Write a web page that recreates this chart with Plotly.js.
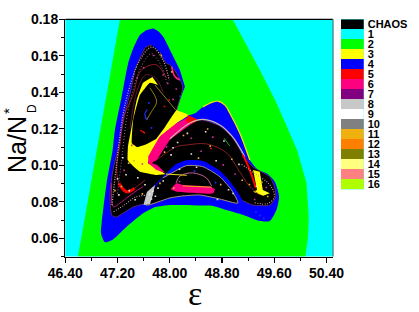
<!DOCTYPE html>
<html><head><meta charset="utf-8">
<script src="https://cdn.plot.ly/plotly-3.0.1.min.js"></script>
<style>html,body{margin:0;padding:0;background:#fff}#c{width:419px;height:312px}</style>
</head><body><div id="c"></div>
<script>
// Legend
const legendLabels = ['CHAOS','1','2','3','4','5','6','7','8','9','10','11','12','13','14','15','16'];
const legendColors = ['#000000','#00ffff','#00ff00','#ffff00','#0000ff','#ff0000','#ff0080','#800080','#c8c8c8','#ffffff','#808080','#f0b010','#ff8000','#808000','#ffff80','#ff8080','#b0ff00'];
const xTicks = [46.4,47.2,48.0,48.8,49.6,50.4];
const xTickLabels = ['46.40','47.20','48.00','48.80','49.60','50.40'];
const yTicks = [0.06,0.08,0.10,0.12,0.14,0.16,0.18];
const yTickLabels = ['0.06','0.08','0.10','0.12','0.14','0.16','0.18'];

// Period regions: boundaries in (epsilon, Na/N*D)
const greenX = [47.237,48.962,49.38,49.635,49.95,50.094,50.129,50.118,50.078,46.594];
const greenY = [.18,.18,.1522,.1341,.1084,.0903,.0717,.0608,.05,.05];
const blueX = [48.232,48.105,48.13,48.283,48.385,48.507,48.614,48.736,48.844,48.92,49.073,49.226,49.353,49.481,49.609,49.674,49.634,49.532,49.379,49.124,48.869,48.512,48.155,47.849,47.594,47.339,47.135,47.007,46.946,46.957,47.033,47.125,47.16,47.263,47.364,47.441,47.543,47.65,47.742,47.818,47.9,48.029,48.155];
const blueY = [.1431,.1303,.1299,.1275,.1285,.132,.134,.1352,.133,.1285,.1175,.1029,.0974,.0956,.091,.0828,.0755,.0695,.0695,.0728,.0755,.0792,.08,.0782,.0737,.0663,.0595,.0578,.0629,.0684,.0903,.1084,.1193,.1376,.1561,.1641,.1714,.1741,.175,.1736,.1705,.1614,.1522];
const chaosUpperX = [47.727,47.635,47.558,47.467,47.405,47.314,47.206,47.13,47.084,47.11,47.176,47.436,47.62,47.926,48.105,48.201,48.094,48.002,47.941,47.849];
const chaosUpperY = [.1659,.1648,.1599,.1522,.1413,.1287,.1084,.0974,.0848,.0727,.0716,.0771,.0793,.0952,.1303,.1429,.1511,.155,.1561,.1621];
const chaosLowerX = [47.635,48.002,48.277,48.507,48.767,48.963,49.15,49.272,49.532,49.609,49.624,49.532,49.272,49.088,48.614,48.002,47.589];
const chaosLowerY = [.1002,.1155,.1237,.1248,.1215,.115,.104,.0991,.0936,.0876,.0826,.0782,.0782,.081,.0837,.0826,.0782];
const yellowX = [47.734,47.589,47.493,47.416,47.359,47.355,47.39,47.543,47.799,47.936,47.665,47.68,47.849,48.105,48.293,48.13,48.105,47.926,47.788,47.65,47.497,47.42,47.44,47.543,47.696,47.82];
const yellowY = [.1484,.1451,.1358,.1211,.11,.1029,.1013,.0965,.0947,.0952,.1013,.1029,.1139,.123,.1275,.1299,.1303,.1209,.1144,.1117,.11,.112,.1248,.1385,.1452,.144];
const pinkX = [47.67,47.849,48.105,48.308,48.43,48.308,48.002,47.799,47.727,47.803,47.926,47.799,47.67];
const pinkY = [.1048,.1157,.123,.1266,.1248,.1221,.1139,.1029,.1013,.1002,.096,.0974,.1013];
const redX = [48.277,48.435,48.4,48.308,48.247];
const redY = [.1275,.1248,.1237,.1229,.1243];
const ringX = [47.936,48.079,48.258,48.507,48.767,48.963,49.119,48.002,47.589,47.742];
const ringY = [.0952,.1002,.1027,.1024,.097,.0892,.0793,.0782,.0771,.0881];
const lensX = [47.895,48.002,48.258,48.507,48.767,48.946,49.043,48.767,48.461,48.2,48.002,47.635,47.696];
const lensY = [.0931,.0952,.0998,.0992,.0937,.0864,.0793,.0815,.0837,.0832,.0821,.0782,.0849];
const greyX = [47.597,47.65,47.773,47.742,47.696];
const greyY = [.0782,.0854,.0892,.0837,.0787];
const lobeX = [48.012,48.105,48.2,48.614,48.69,48.665,48.308,48.105];
const lobeY = [.0868,.0901,.0892,.0883,.0868,.0846,.085,.0855];
const streakX = [49.276,49.379,49.425,49.532,49.43,49.276,49.337];
const streakY = [.0974,.0965,.0865,.0846,.0833,.0855,.0865];

// Thin bands
const lobeTopX = [48.2,48.64]; const lobeTopY = [.0887,.088];
const lobeArcX = [48.094,48.155,48.35,48.56,48.64]; const lobeArcY = [.0901,.0941,.0958,.0931,.0887];
const redStreakX = [49.119,49.226,49.318]; const redStreakY = [.1057,.0974,.0876];
const edgeX = [48.002,48.308,48.507,48.767,48.963,49.15]; const edgeY = [.1145,.1232,.1252,.1221,.1155,.1046];
const redArcX = [47.95,47.8,47.665,47.543,47.437,47.29,47.237,47.186,47.237,47.339,47.492,47.62];
const redArcY = [.1478,.155,.1544,.1511,.1385,.1259,.1111,.0992,.0883,.0855,.0883,.0919];
const redBlobX = [47.22,47.339,47.461]; const redBlobY = [.0901,.0855,.0873];
const magentaArcX = [47.11,47.135,47.237,47.441,47.594]; const magentaArcY = [.0903,.0773,.0793,.0848,.0883];
const paleArcX = [47.115,47.176,47.314,47.543,47.727,47.895,47.99]; const paleArcY = [.0782,.0974,.1331,.1577,.1648,.1577,.1467];
const paleInnerX = [47.2,47.26,47.37,47.57,47.72,47.87,47.96]; const paleInnerY = [.0845,.1022,.1315,.1545,.1612,.1545,.1445];
const lowerFringeX = [47.14,47.3,47.47,47.62]; const lowerFringeY = [.0745,.0781,.0825,.0835];
const rightFringeX = [49.1,49.3,49.5,49.58,49.6,49.5,49.3]; const rightFringeY = [.1005,.0955,.0905,.0865,.0825,.079,.0795];
const subLobeX = [48.029,48.079,48.155]; const subLobeY = [.1541,.1486,.1467];
const yellowLineX = [47.773,48.09]; const yellowLineY = [.144,.1303];
const ovalX = [47.696,47.799,47.72,47.645]; const ovalY = [.1424,.1349,.1294,.1248];
const ovalBlueX = [47.645,47.62,47.66]; const ovalBlueY = [.1248,.1285,.1305];
const redLongX = [47.799,48.105,48.258,48.564,48.87,49.023,49.226,49.379];
const redLongY = [.1029,.1102,.1111,.1117,.1068,.0992,.0883,.0837];
const greenLineX = [48.83,48.92]; const greenLineY = [.1149,.1105];
const fringeX = [48.507,48.614,48.736,48.844,48.92,49.073,49.226]; const fringeY = [.132,.134,.1352,.133,.1285,.1175,.1029];
const tipDashX = [47.94,48.26]; const tipDashY = [.0952,.0945];
const midArcX = [47.39,47.5,47.63,47.78,47.9]; const midArcY = [.12,.141,.1495,.148,.14];

// Speckles
const whiteX = [48.12,48.27,48.33,48.55,48.71,48.83,48.05,47.62,47.51,47.28,47.33,47.2,47.74,47.82,47.72,47.78,47.69,48.02,48.15,48.9,48.97,49.06,49.33,49.45,48.73,48.41,47.38,47.22,47.47,47.9];
const whiteY = [.1125,.1175,.1062,.1184,.1025,.1133,.1096,.0893,.0932,.1041,.0948,.0926,.0858,.0875,.0815,.083,.0842,.1057,.0978,.0866,.0845,.1005,.0885,.0851,.0812,.0989,.0861,.0838,.0811,.0914];
const goldX = [48.21,48.44,48.62,48.95,49.11,47.92,47.85,47.37,47.26,47.16,49.22,49.41,49.5,48.06,48.58,48.78,47.58,47.45,48.03,47.87];
const goldY = [.1163,.1039,.1105,.1033,.0918,.1072,.0901,.1012,.0884,.0861,.0895,.0906,.0829,.0875,.1199,.0894,.0843,.1025,.1512,.1602];
const magentaX = [48.33,48.48,48.66,48.82,49.0,47.95,48.15,47.58,47.42,47.3,47.9,47.97,48.1,49.3,49.48,48.05,47.75,47.6,47.5];
const magentaY = [.1148,.1077,.1154,.1002,.0952,.1101,.0911,.1007,.1109,.0972,.1495,.1448,.1418,.0812,.0878,.1361,.1602,.1534,.1478];
const blueSpeckX = [47.68,47.63,47.72,48.16,48.38,48.7,49.32,49.38,49.44];
const blueSpeckY = [.1342,.1259,.1205,.1378,.0968,.0905,.0745,.0725,.0708];
const redSpeckX = [47.59,47.61,47.56,47.92,47.99,48.63];
const redSpeckY = [.1184,.1178,.1189,.1322,.1358,.1092];

const traces = [];
function fillArea(x,y,color,lineColor,lineWidth,smooth){
  traces.push({type:'scatter',mode:'lines',x:x,y:y,fill:'toself',fillcolor:color,
    line:{color:lineColor||color,width:lineWidth||0,shape:smooth?'spline':'linear',smoothing:smooth||0},hoverinfo:'skip',showlegend:false});
}
function band(x,y,color,width,smooth,dash){
  traces.push({type:'scatter',mode:'lines',x:x,y:y,line:{color:color,width:width,shape:smooth?'spline':'linear',dash:dash||'solid'},hoverinfo:'skip',showlegend:false});
}
function specks(x,y,color){
  traces.push({type:'scatter',mode:'markers',x:x,y:y,marker:{symbol:'square',size:1.6,color:color},hoverinfo:'skip',showlegend:false});
}
fillArea(greenX,greenY,legendColors[2]);
fillArea(blueX,blueY,legendColors[4],null,0,0.6);
band(fringeX,fringeY,'#ffe000',1.2,true);
fillArea(chaosUpperX,chaosUpperY,'#000000','#5a2a6a',1,0.5);
fillArea(chaosLowerX,chaosLowerY,'#000000','#5a2a6a',1,0.5);
fillArea(yellowX,yellowY,legendColors[3],null,0,0.3);
fillArea(pinkX,pinkY,legendColors[6],null,0,0.3);
fillArea(redX,redY,legendColors[5]);
band(edgeX,edgeY,'#c8b8b0',1.2,true);
fillArea(ringX,ringY,legendColors[4],null,0,0.6);
fillArea(lensX,lensY,'#000000','#a89080',1,0.6);
fillArea(greyX,greyY,legendColors[8]);
band(lobeArcX,lobeArcY,'#c06098',1,true);
fillArea(lobeX,lobeY,legendColors[6],null,0,0.4);
band(lobeTopX,lobeTopY,'#f0b010',1);
fillArea(streakX,streakY,legendColors[3]);
band(redStreakX,redStreakY,legendColors[5],2,true);
band(redArcX,redArcY,'#b02030',0.8,true);
band(redBlobX,redBlobY,legendColors[5],3,true);
band(magentaArcX,magentaArcY,'#c0208a',0.9,true);
band(paleArcX,paleArcY,'#c8a0b0',1.3,true,'1px,1.5px');
band(paleInnerX,paleInnerY,'#a06880',1,true,'1px,2px');
band(lowerFringeX,lowerFringeY,'#c8a0b0',1.1,true,'1px,1.5px');
band(rightFringeX,rightFringeY,'#c8a0b0',1.1,true,'1px,1.5px');
band(midArcX,midArcY,'#802040',.7,true);
band(subLobeX,subLobeY,'#ff2090',1.6,true);
band(yellowLineX,yellowLineY,'#c8b020',.7);
band(ovalX,ovalY,'#c8b020',.7,true);
band(ovalBlueX,ovalBlueY,'#2030ff',1.2,true);
band(redLongX,redLongY,'#a02828',.8,true);
band(greenLineX,greenLineY,'#20a040',1);
band(tipDashX,tipDashY,'#e8e020',1);
specks(whiteX,whiteY,'#f0e8e0');
specks(goldX,goldY,'#e8b030');
specks(magentaX,magentaY,'#d030a0');
specks(blueSpeckX,blueSpeckY,'#2030ff');
specks(redSpeckX,redSpeckY,'#ff1010');

// Colour key drawn as a heat map
traces.push({type:'heatmap',xaxis:'x2',yaxis:'y2',x:[0],y:legendLabels,
  z:legendLabels.map(function(_,i){return [i];}),
  zmin:-0.5,zmax:legendLabels.length-0.5,showscale:false,hoverinfo:'skip',
  colorscale:legendColors.reduce(function(acc,c,i,a){
    acc.push([i/a.length,c]);acc.push([(i+1)/a.length,c]);return acc;},[])});

const tickFont = {family:'"Liberation Sans",Arial,sans-serif',size:14,color:'#000',weight:700};
const sansFont = '"Liberation Sans",Arial,sans-serif';
const W=419,H=312;
const layout = {
  width:W,height:H,margin:{l:0,r:0,t:0,b:0},paper_bgcolor:'#fff',plot_bgcolor:legendColors[1],showlegend:false,
  xaxis:{domain:[65.3/W,333/W],range:[46.4,50.5],anchor:'y',tickmode:'array',tickvals:xTicks,ticktext:xTickLabels,
    ticks:'outside',ticklen:5,tickwidth:1.2,tickcolor:'#000',tickfont:tickFont,ticklabelstandoff:-2,linecolor:'#000',linewidth:1.3,showline:true,mirror:false,showgrid:false,zeroline:false,
    minor:{tickmode:'array',tickvals:[46.8,47.6,48.4,49.2,50.0],ticks:'outside',ticklen:3,tickwidth:1,tickcolor:'#000',showgrid:false},
    automargin:false},
  yaxis:{domain:[1-256.5/H,1-19.3/H],range:[.05,.18],anchor:'x',tickmode:'array',tickvals:yTicks,ticktext:yTickLabels,
    ticks:'outside',ticklen:5,tickwidth:1.2,tickcolor:'#000',tickfont:tickFont,ticklabelstandoff:-2,linecolor:'#000',linewidth:1.3,showline:true,showgrid:false,zeroline:false,
    minor:{tickmode:'array',tickvals:[.05,.07,.09,.11,.13,.15,.17],ticks:'outside',ticklen:3,tickwidth:1,tickcolor:'#000',showgrid:false},
    automargin:false},
  xaxis2:{domain:[341/W,363.7/W],anchor:'y2',showticklabels:false,ticks:'',showgrid:false,zeroline:false,showline:false},
  yaxis2:{domain:[1-189.3/H,1-19.3/H],anchor:'x2',side:'right',type:'category',autorange:'reversed',ticks:'',ticklen:0,ticklabelstandoff:3,showgrid:false,zeroline:false,showline:false,
    tickmode:'array',tickvals:legendLabels,ticktext:legendLabels,tickfont:{family:sansFont,size:11,color:'#000',weight:700}},
  shapes:[
    {type:'line',xref:'paper',yref:'paper',x0:65.3/W,x1:333/W,y0:1-19.3/H,y1:1-19.3/H,line:{color:'#000',width:1.2}},
    {type:'line',xref:'paper',yref:'paper',x0:333/W,x1:333/W,y0:1-256.5/H,y1:1-19.3/H,line:{color:'#4a8a90',width:1.4}}
  ],
  annotations:[
    {xref:'paper',yref:'paper',x:17/W,y:1-145/H,text:'Na/N',textangle:-90,showarrow:false,xanchor:'center',yanchor:'middle',font:{family:sansFont,size:25,color:'#000'}},
    {xref:'paper',yref:'paper',x:32/W,y:1-109/H,text:'D',textangle:-90,showarrow:false,xanchor:'center',yanchor:'middle',font:{family:sansFont,size:12,color:'#000'}},
    {xref:'paper',yref:'paper',x:8/W,y:1-111/H,text:'*',textangle:-90,showarrow:false,xanchor:'center',yanchor:'middle',font:{family:sansFont,size:15,color:'#000'}},
    {xref:'paper',yref:'paper',x:195/W,y:1-293/H,text:'ε',showarrow:false,xanchor:'center',yanchor:'middle',font:{family:'"Liberation Serif","DejaVu Serif",serif',size:34,color:'#000'}}
  ]
};
Plotly.newPlot('c',traces,layout,{displayModeBar:false,staticPlot:true});
</script></body></html>
